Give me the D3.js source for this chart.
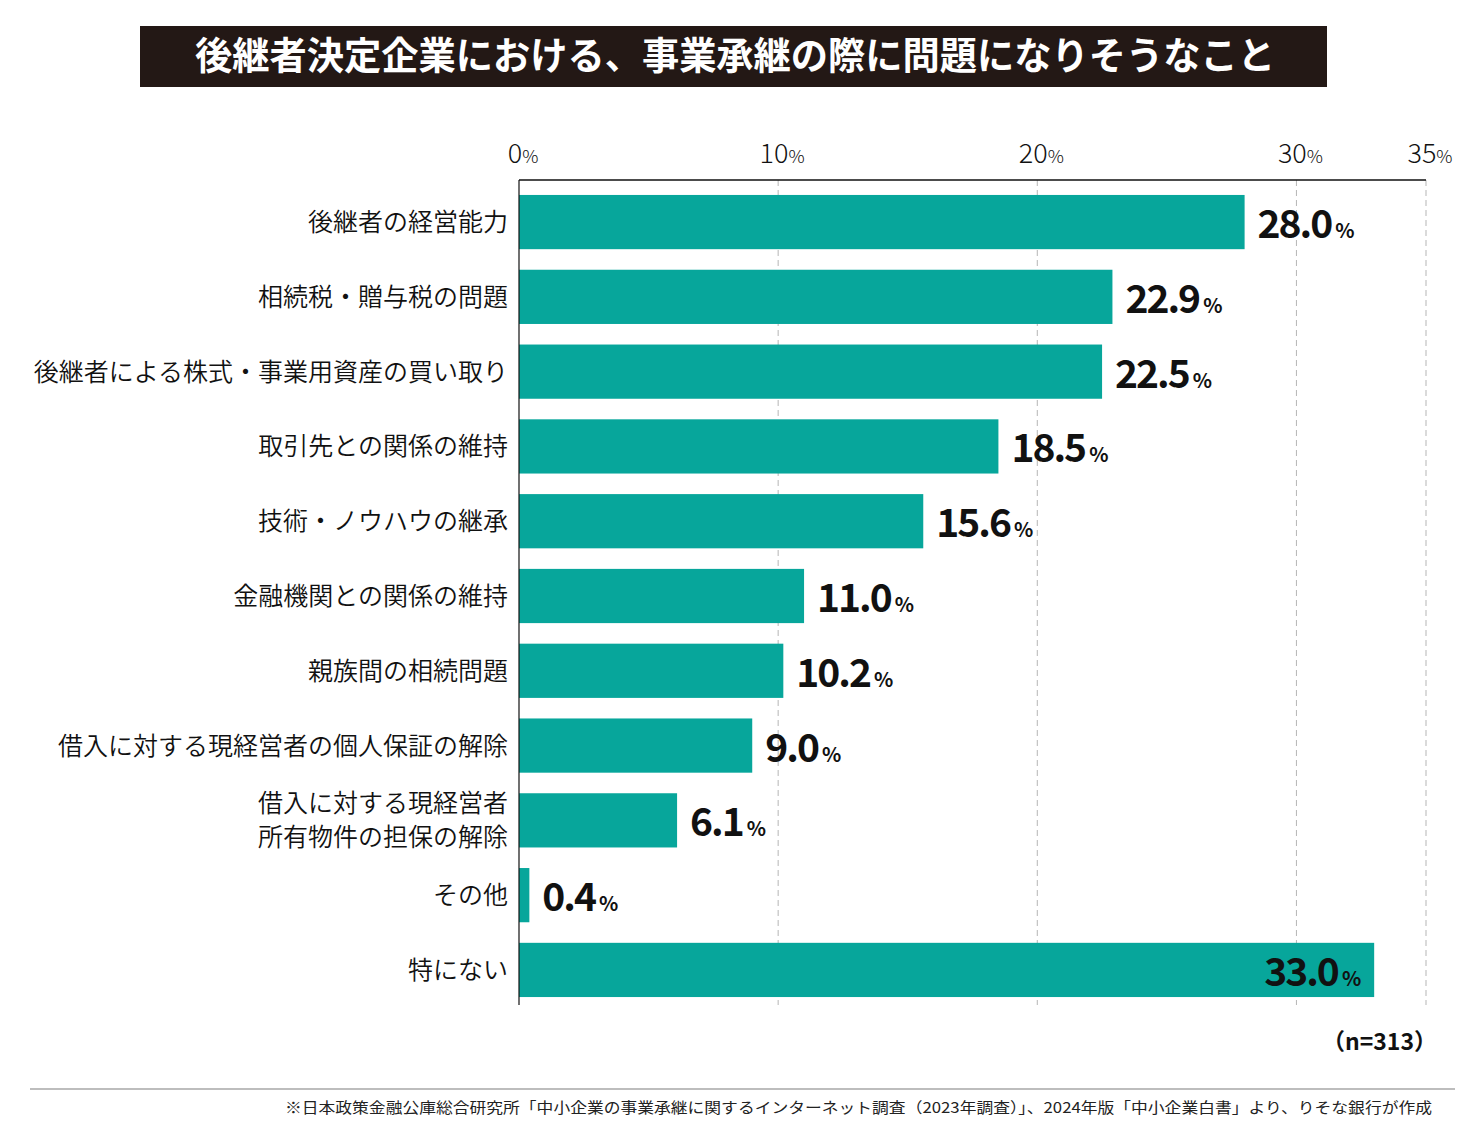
<!DOCTYPE html>
<html><head><meta charset="utf-8">
<script src="https://cdn.jsdelivr.net/npm/d3@7/dist/d3.min.js"></script>
<style>body{margin:0;background:#fff;} svg{display:block;}</style>
</head><body>
<svg id="c" width="1468" height="1135"></svg>
<script>
const categories = [
  ["後継者の経営能力"],
  ["相続税・贈与税の問題"],
  ["後継者による株式・事業用資産の買い取り"],
  ["取引先との関係の維持"],
  ["技術・ノウハウの継承"],
  ["金融機関との関係の維持"],
  ["親族間の相続問題"],
  ["借入に対する現経営者の個人保証の解除"],
  ["借入に対する現経営者", "所有物件の担保の解除"],
  ["その他"],
  ["特にない"]
];
const values = [28.0, 22.9, 22.5, 18.5, 15.6, 11.0, 10.2, 9.0, 6.1, 0.4, 33.0];
const ticks = [0, 10, 20, 30, 35];
const title = "後継者決定企業における、事業承継の際に問題になりそうなこと";
const note = "（n=313）";
const source = "※日本政策金融公庫総合研究所「中小企業の事業承継に関するインターネット調査（2023年調査）」、2024年版「中小企業白書」より、りそな銀行が作成";

const svg = d3.select("#c");
const FONT = "'Noto Sans CJK JP','Noto Sans',sans-serif";
const color = "#07a69b";

// title
svg.append("rect").attr("x",140).attr("y",26).attr("width",1187).attr("height",61).attr("fill","#231815");
svg.append("text").attr("x",735).attr("y",69).attr("text-anchor","middle")
  .attr("fill","#fff").attr("font-family",FONT).attr("font-weight",700).attr("font-size",38)
  .attr("textLength",1080).attr("lengthAdjust","spacingAndGlyphs").text(title);

const x = d3.scaleLinear().domain([0,35]).range([519,1426]);
const y = d3.scaleBand().domain(d3.range(values.length)).range([180,1012]).paddingInner(0.275).paddingOuter(0.2);

const plotTop = 180, plotBottom = 1005;

// gridlines
svg.append("g").selectAll("line").data(ticks.filter(t=>t>0)).join("line")
  .attr("x1",d=>x(d)).attr("x2",d=>x(d)).attr("y1",plotTop).attr("y2",plotBottom)
  .attr("stroke","#b5b5b5").attr("stroke-width",1).attr("stroke-dasharray","6,4");

// bars
svg.append("g").selectAll("rect").data(values).join("rect")
  .attr("x",x(0)).attr("y",(d,i)=>y(i)).attr("width",d=>x(d)-x(0)).attr("height",y.bandwidth())
  .attr("fill",color);

// axes lines
svg.append("line").attr("x1",x(0)).attr("x2",x(35)).attr("y1",plotTop).attr("y2",plotTop).attr("stroke","#111").attr("stroke-width",1.5);
svg.append("line").attr("x1",x(0)).attr("x2",x(0)).attr("y1",plotTop).attr("y2",plotBottom).attr("stroke","#111").attr("stroke-width",1.2);

// tick labels
const tl = svg.append("g").selectAll("text").data(ticks).join("text")
  .attr("x",d=>x(d)+4).attr("y",163).attr("text-anchor","middle")
  .attr("font-family",FONT).attr("font-weight",300).attr("font-size",27).attr("fill","#111");
tl.append("tspan").text(d=>d);
tl.append("tspan").attr("font-size",18).text("%");

// category labels
const cl = svg.append("g").selectAll("text").data(categories).join("text")
  .attr("text-anchor","end").attr("font-family",FONT).attr("font-weight",350).attr("font-size",25).attr("fill","#111")
  .attr("y",(d,i)=>y(i)+y.bandwidth()/2 - (d.length-1)*17 + 9);
cl.selectAll("tspan").data(d=>d).join("tspan").attr("x",508).attr("dy",(d,j)=>j===0?0:34).text(d=>d);

// value labels
const vl = svg.append("g").selectAll("text").data(values).join("text")
  .attr("x",d=>d>30 ? x(d)-13 : x(d)+13)
  .attr("text-anchor",d=>d>30?"end":"start")
  .attr("y",(d,i)=>y(i)+y.bandwidth()/2+16)
  .attr("font-family",FONT).attr("font-weight",700).attr("font-size",39).attr("fill","#111")
  .attr("letter-spacing",-2);
vl.append("tspan").text(d=>d.toFixed(1));
vl.append("tspan").attr("font-size",20).attr("letter-spacing",0).attr("dx",4).text("%");

// n
svg.append("text").attr("x",1437).attr("y",1050).attr("text-anchor","end")
  .attr("font-family",FONT).attr("font-weight",700).attr("font-size",23).attr("fill","#111").text(note);

// footer
svg.append("line").attr("x1",30).attr("x2",1455).attr("y1",1089).attr("y2",1089).attr("stroke","#bdbdbd").attr("stroke-width",2);
svg.append("text").attr("x",1432).attr("y",1113).attr("text-anchor","end")
  .attr("font-family",FONT).attr("font-size",15).attr("fill","#222")
  .attr("textLength",1147).attr("lengthAdjust","spacingAndGlyphs").text(source);
</script>
</body></html>
